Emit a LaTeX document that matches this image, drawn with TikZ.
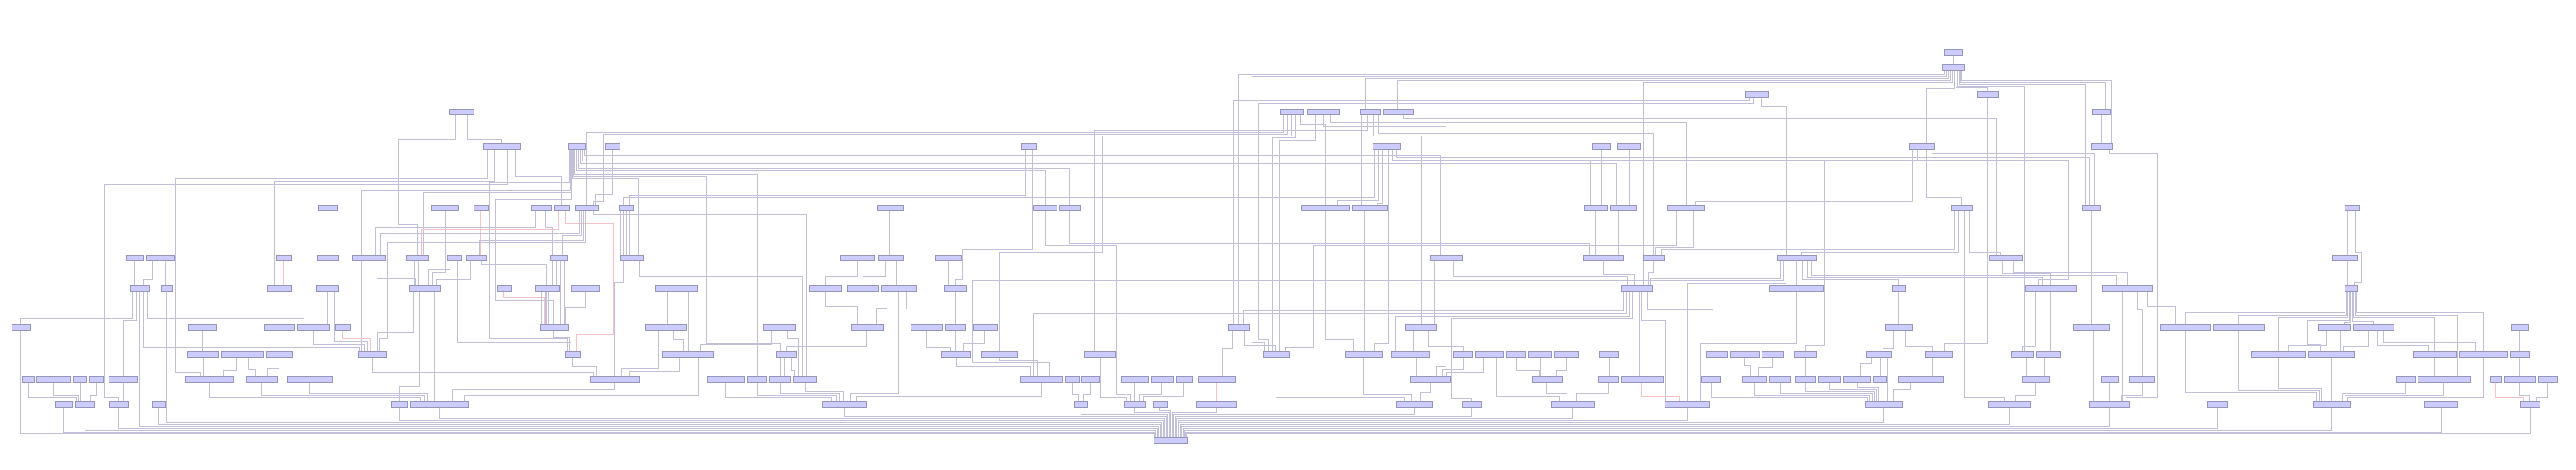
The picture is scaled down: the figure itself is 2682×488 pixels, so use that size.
\documentclass[tikz,border=0pt]{standalone}
\usetikzlibrary{backgrounds}
\definecolor{boxfill}{RGB}{204,204,255}
\definecolor{boxline}{RGB}{150,150,185}
\definecolor{edgec}{RGB}{194,192,216}
\definecolor{pinkc}{RGB}{242,196,200}
\tikzset{
  blk/.style={rectangle,draw=boxline,fill=boxfill,line width=0.8pt,minimum height=6pt,inner sep=0pt},
  ln/.style={draw=edgec,line width=0.8pt},
  pk/.style={draw=pinkc}
}
% box from x1 to x2 on row y
\newcommand{\nd}[4]{\node[blk,minimum width={#3pt-#2pt}] (#1) at ({(#2+#3)/2},#4) {};}
% down, across on row cy, down into target
\newcommand{\ed}[6][]{\draw[ln,#1] (0,#6) coordinate (q) ([xshift=#3pt]#2.south) coordinate (p) -- (p |- q) -| ([xshift=#5pt]#4.north);}
% down to cy1, across to xm, down to cy2, across, down
\newcommand{\edd}[8][]{\draw[ln,#1] (0,#6) coordinate (q) ([xshift=#3pt]#2.south) coordinate (p) -- (p |- q) -- (#7,#6) -- (#7,#8) -| ([xshift=#5pt]#4.north);}
% straight down
\newcommand{\vd}[4][]{\draw[ln,#1] ([xshift=#3pt]#2.south) coordinate (p) -- (p |- #4.north);}
\begin{document}
\begin{tikzpicture}[x=1pt,y=-1pt]
\useasboundingbox (0,0) rectangle (2682,488);
% row 0-3
\nd{a0}{2024}{2043}{54}
\nd{b0}{2022}{2045}{70}
\nd{c0}{1817}{1841}{98}
\nd{c1}{2058}{2080}{98}
\nd{d0}{467}{493}{116}
\nd{d1}{1333}{1357}{116}
\nd{d2}{1361}{1394}{116}
\nd{d3}{1416}{1437}{116}
\nd{d4}{1440}{1471}{116}
\nd{d5}{2178}{2197}{116}
% row 4
\nd{e0}{503}{541}{152}
\nd{e1}{591}{609}{152}
\nd{e2}{630}{645}{152}
\nd{e3}{1063}{1079}{152}
\nd{e4}{1429}{1458}{152}
\nd{e5}{1658}{1676}{152}
\nd{e6}{1684}{1708}{152}
\nd{e7}{1988}{2014}{152}
\nd{e8}{2177}{2199}{152}
% row 5
\nd{f0}{331}{351}{216}
\nd{f1}{449}{477}{216}
\nd{f2}{493}{508}{216}
\nd{f3}{553}{574}{216}
\nd{f4}{577}{592}{216}
\nd{f5}{599}{623}{216}
\nd{f6}{644}{659}{216}
\nd{f7}{913}{940}{216}
\nd{f8}{1076}{1100}{216}
\nd{f9}{1103}{1124}{216}
\nd{f10}{1355}{1405}{216}
\nd{f11}{1408}{1444}{216}
\nd{f12}{1649}{1673}{216}
\nd{f13}{1676}{1703}{216}
\nd{f14}{1736}{1774}{216}
\nd{f15}{2031}{2053}{216}
\nd{f16}{2168}{2186}{216}
\nd{f17}{2441}{2456}{216}
% row 6
\nd{g0}{131}{149}{268}
\nd{g1}{152}{181}{268}
\nd{g2}{287}{303}{268}
\nd{g3}{330}{352}{268}
\nd{g4}{367}{401}{268}
\nd{g5}{423}{446}{268}
\nd{g6}{465}{480}{268}
\nd{g7}{485}{506}{268}
\nd{g8}{573}{590}{268}
\nd{g9}{646}{669}{268}
\nd{g10}{875}{910}{268}
\nd{g11}{914}{940}{268}
\nd{g12}{973}{1001}{268}
\nd{g13}{1489}{1522}{268}
\nd{g14}{1648}{1690}{268}
\nd{g15}{1711}{1732}{268}
\nd{g16}{1850}{1891}{268}
\nd{g17}{2071}{2105}{268}
\nd{g18}{2428}{2454}{268}
% row 7
\nd{h0}{135}{155}{300}
\nd{h1}{168}{179}{300}
\nd{h2}{278}{303}{300}
\nd{h3}{329}{352}{300}
\nd{h4}{426}{458}{300}
\nd{h5}{517}{532}{300}
\nd{h6}{557}{582}{300}
\nd{h7}{595}{624}{300}
\nd{h8}{682}{726}{300}
\nd{h9}{842}{876}{300}
\nd{h10}{882}{914}{300}
\nd{h11}{917}{954}{300}
\nd{h12}{983}{1006}{300}
\nd{h13}{1688}{1720}{300}
\nd{h14}{1842}{1898}{300}
\nd{h15}{1970}{1983}{300}
\nd{h16}{2108}{2161}{300}
\nd{h17}{2189}{2241}{300}
\nd{h18}{2441}{2454}{300}
% row 8
\nd{i0}{12}{31}{340}
\nd{i1}{196}{225}{340}
\nd{i2}{275}{306}{340}
\nd{i3}{309}{343}{340}
\nd{i4}{349}{364}{340}
\nd{i5}{562}{591}{340}
\nd{i6}{672}{714}{340}
\nd{i7}{794}{828}{340}
\nd{i8}{886}{919}{340}
\nd{i9}{948}{981}{340}
\nd{i10}{984}{1005}{340}
\nd{i11}{1013}{1038}{340}
\nd{i12}{1279}{1300}{340}
\nd{i13}{1463}{1495}{340}
\nd{i14}{1963}{1991}{340}
\nd{i15}{2158}{2196}{340}
\nd{i16}{2249}{2301}{340}
\nd{i17}{2304}{2357}{340}
\nd{i18}{2413}{2447}{340}
\nd{i19}{2450}{2492}{340}
\nd{i20}{2614}{2632}{340}
% row 9
\nd{j0}{195}{227}{368}
\nd{j1}{230}{274}{368}
\nd{j2}{277}{304}{368}
\nd{j3}{373}{402}{368}
\nd{j4}{588}{604}{368}
\nd{j5}{689}{742}{368}
\nd{j6}{808}{829}{368}
\nd{j7}{980}{1010}{368}
\nd{j8}{1021}{1059}{368}
\nd{j9}{1129}{1161}{368}
\nd{j10}{1315}{1342}{368}
\nd{j11}{1400}{1439}{368}
\nd{j12}{1448}{1488}{368}
\nd{j13}{1513}{1533}{368}
\nd{j14}{1536}{1565}{368}
\nd{j15}{1568}{1588}{368}
\nd{j16}{1591}{1615}{368}
\nd{j17}{1618}{1643}{368}
\nd{j18}{1665}{1685}{368}
\nd{j19}{1776}{1798}{368}
\nd{j20}{1801}{1831}{368}
\nd{j21}{1834}{1856}{368}
\nd{j22}{1868}{1891}{368}
\nd{j23}{1943}{1969}{368}
\nd{j24}{2004}{2032}{368}
\nd{j25}{2094}{2117}{368}
\nd{j26}{2120}{2145}{368}
\nd{j27}{2344}{2400}{368}
\nd{j28}{2403}{2451}{368}
\nd{j29}{2512}{2557}{368}
\nd{j30}{2560}{2610}{368}
\nd{j31}{2613}{2633}{368}
% row 10
\nd{k0}{23}{35}{394}
\nd{k1}{38}{73}{394}
\nd{k2}{76}{90}{394}
\nd{k3}{93}{107}{394}
\nd{k4}{113}{143}{394}
\nd{k5}{193}{243}{394}
\nd{k6}{256}{288}{394}
\nd{k7}{299}{346}{394}
\nd{k8}{614}{665}{394}
\nd{k9}{736}{775}{394}
\nd{k10}{778}{798}{394}
\nd{k11}{801}{823}{394}
\nd{k12}{826}{850}{394}
\nd{k13}{1062}{1106}{394}
\nd{k14}{1109}{1123}{394}
\nd{k15}{1126}{1144}{394}
\nd{k16}{1167}{1195}{394}
\nd{k17}{1198}{1221}{394}
\nd{k18}{1224}{1241}{394}
\nd{k19}{1247}{1286}{394}
\nd{k20}{1468}{1510}{394}
\nd{k21}{1595}{1626}{394}
\nd{k22}{1664}{1685}{394}
\nd{k23}{1688}{1731}{394}
\nd{k24}{1771}{1791}{394}
\nd{k25}{1814}{1839}{394}
\nd{k26}{1842}{1864}{394}
\nd{k27}{1869}{1890}{394}
\nd{k28}{1893}{1916}{394}
\nd{k29}{1919}{1947}{394}
\nd{k30}{1950}{1964}{394}
\nd{k31}{1976}{2023}{394}
\nd{k32}{2105}{2133}{394}
\nd{k33}{2187}{2205}{394}
\nd{k34}{2217}{2243}{394}
\nd{k35}{2495}{2514}{394}
\nd{k36}{2517}{2572}{394}
\nd{k37}{2592}{2604}{394}
\nd{k38}{2607}{2639}{394}
\nd{k39}{2642}{2662}{394}
% row 11
\nd{l0}{57}{75}{420}
\nd{l1}{78}{98}{420}
\nd{l2}{114}{133}{420}
\nd{l3}{158}{172}{420}
\nd{l4}{407}{424}{420}
\nd{l5}{427}{487}{420}
\nd{l6}{856}{902}{420}
\nd{l7}{1118}{1132}{420}
\nd{l8}{1170}{1192}{420}
\nd{l9}{1200}{1215}{420}
\nd{l10}{1245}{1287}{420}
\nd{l11}{1453}{1491}{420}
\nd{l12}{1522}{1542}{420}
\nd{l13}{1615}{1660}{420}
\nd{l14}{1733}{1779}{420}
\nd{l15}{1942}{1980}{420}
\nd{l16}{2070}{2114}{420}
\nd{l17}{2175}{2217}{420}
\nd{l18}{2298}{2319}{420}
\nd{l19}{2408}{2447}{420}
\nd{l20}{2524}{2558}{420}
\nd{l21}{2624}{2644}{420}
% row 12
\nd{m0}{1201}{1236}{458}

\begin{scope}[on background layer]
\fill[white] (0,0) rectangle (2682,488);
% top right
\vd{a0}{0}{b0}
\ed{b0}{-9}{i12}{0}{77}
\edd{b0}{-7}{j10}{-12}{79}{1303}{356}
\ed{b0}{-5}{d3}{-5}{81}
\ed{b0}{-3}{d4}{0}{83}
\ed{b0}{-1}{h13}{7}{85}
\ed{b0}{1}{e7}{4}{92}
\ed{b0}{3}{c1}{0}{91}
\ed{b0}{5}{j25}{1.5}{89}
\ed{b0}{7}{f16}{-6}{87}
\ed{b0}{8}{d5}{4.5}{85}
\ed{b0}{9}{e8}{10}{83}
\ed{c0}{-8}{i12}{-5}{104}
\edd{c0}{-4}{j10}{-8}{107}{1310}{353}
\ed{c0}{4}{g16}{-10}{110}
\ed{c1}{0}{j24}{6}{357}
\vd{d5}{0}{e8}
\vd{e8}{0}{i15}
\edd{e8}{8}{l17}{17}{159}{2246}{413}
\vd{f16}{0}{i15}
\vd{i15}{2}{l17}
\vd{k33}{0}{l17}
\ed{k34}{0}{l17}{12}{411}
\vd{h17}{-6}{l17}
\ed{h17}{10}{k34}{0}{322}
\ed{h17}{20}{i16}{-10}{318}
\ed{e7}{-10}{f14}{10}{209}
\edd{e7}{-5}{j22}{0}{167}{1899}{359}
\ed{e7}{4}{f15}{0}{205}
\ed{e7}{10}{f16}{3}{159}
\ed{f15}{-8}{g15}{8}{259}
\ed{f15}{-3}{g16}{5}{262}
\ed{f15}{3}{l16}{-6}{413}
\ed{f15}{8}{g17}{-6}{262}
\ed{g16}{-17}{h13}{14}{289}
\edd{g16}{-14}{k13}{8}{291}{1012}{377}
\ed{g16}{-11}{l14}{0}{294}
\vd{g16}{0}{h14}
\ed{g16}{6}{h15}{0}{290}
\ed{g16}{11}{h16}{-8}{288}
\ed{g16}{16}{h17}{-12}{286}
\ed{g17}{-4}{h16}{0}{284}
\ed{g17}{8}{h17}{0}{283}
\ed{h14}{0}{l14}{14}{357}
\vd{h15}{0}{i14}
\ed{i14}{-6}{j23}{4}{362}
\ed{i14}{6}{j24}{-6}{360}
\vd{h16}{0}{j26}
\ed{h16}{-15}{j25}{0}{360}
\vd{j19}{-4}{k24}
\ed{j20}{0}{k25}{-4}{380}
\ed{j21}{0}{k25}{4}{382}
\vd{j22}{0}{k27}
\ed{j23}{-8}{k29}{4}{378}
\vd{j23}{1}{k30}
\vd{j23}{9}{l15}
\vd{j24}{-6}{k31}
\vd{j25}{4}{k32}
\vd{j26}{-4}{k32}
\ed{k24}{0}{l15}{-17}{413}
\ed{k25}{0}{l15}{-14.5}{411}
\ed{k26}{0}{l15}{-12}{409}
\ed{k27}{0}{l15}{-9.5}{407}
\ed{k28}{0}{l15}{-7.5}{405}
\ed{k29}{0}{l15}{-5.5}{403}
\vd{k30}{3}{l15}
\ed{k31}{-10}{l15}{10}{405}
\ed{k32}{0}{l16}{6}{411}
% far right
\vd{f17}{-4}{g18}
\edd{f17}{4}{h18}{4}{262}{2458}{293}
\vd{g18}{3}{h18}
\ed{h18}{-6}{i16}{0}{325}
\ed{h18}{-4.5}{i17}{0}{328}
\ed{h18}{-3}{j27}{0}{330}
\edd{h18}{-1.5}{j28}{-12}{333}{2402}{358}
\ed{h18}{0}{i18}{10}{335}
\ed{h18}{1.5}{i19}{0}{334}
\ed{h18}{3}{j29}{0}{330}
\ed{h18}{4.5}{k36}{13.5}{328}
\ed{h18}{6}{j30}{0}{325}
\ed{i16}{0}{l19}{-16}{408}
\ed{i17}{0}{l19}{-13}{406}
\ed{i18}{-8}{j27}{10}{359}
\vd{i18}{6}{j28}
\ed{i19}{-6}{j28}{12}{360}
\ed{i19}{4}{j29}{-6}{359}
\ed{i19}{10}{j30}{-8}{356}
\ed{j27}{0}{l19}{-10}{404}
\vd{j28}{0}{l19}
\vd{j29}{0}{k36}
\ed{j30}{0}{l19}{17}{413}
\vd{i20}{0}{j31}
\vd{j31}{0}{k38}
\ed{k35}{0}{l19}{11}{409}
\ed{k36}{0}{l19}{14}{411}
\ed[pk]{k37}{0}{l21}{-7}{413}
\ed{k38}{0}{l21}{-1}{411}
\ed{k39}{0}{l21}{6}{413}
% middle right
\ed{d1}{-9}{f5}{-1}{137}
\edd{d1}{-5}{f5}{6}{139}{628}{209}
\edd{d1}{-1}{j8}{0}{141}{1147}{262}
\ed{d1}{3}{j10}{-4}{143}
\ed{d1}{9}{f10}{0}{129}
\ed{d2}{-8}{j10}{4}{146}
\ed{d2}{0}{g13}{0}{131}
\ed{d2}{8}{f14}{0}{127}
\vd{d3}{-9}{f11}
\ed{d3}{-3}{j9}{-6}{135}
\ed{d3}{4}{i13}{0}{141}
\ed{d3}{9}{g15}{0}{138}
\ed{d4}{6}{g17}{-10}{123}
\ed{e4}{-12}{f6}{-2}{205}
\ed{e4}{-8}{f10}{12}{208}
\ed{e4}{-4}{f11}{8}{211}
\ed{e4}{2}{j11}{12}{357}
\edd{e4}{6}{h16}{-12}{166}{2153}{290}
\ed{e4}{10}{f16}{-2}{163}
\vd{e5}{0}{f12}
\vd{e6}{0}{f13}
\vd{f12}{0}{g14}
\vd{f13}{-4}{g14}
\ed{f10}{0}{j11}{-10}{353}
\vd{f11}{-6}{j11}
\edd{f14}{-10}{j10}{10}{255}{1367}{361}
\ed{f14}{8}{g15}{2}{257}
\ed{g13}{8}{h13}{-10}{287}
\vd{g13}{-12}{i13}
\ed{g13}{0}{k20}{6}{381}
\ed{g14}{0}{h13}{-3}{285}
\ed{g15}{0}{h13}{12}{283}
\ed{h13}{-14}{i12}{5}{323}
\ed{h13}{-11}{k13}{-8}{326}
\ed{h13}{-8}{j12}{-16}{329}
\edd{h13}{-5}{l12}{0}{331}{1511}{414}
\vd{h13}{2}{k23}
\ed{h13}{5}{l14}{-22}{333}
\ed{h13}{11}{j19}{-4}{322}
\ed{i12}{6}{j10}{-1}{359}
\ed{i12}{-6}{k19}{6}{362}
\ed{j10}{0}{l11}{-10}{413}
\ed{j11}{0}{l11}{-3}{410}
\ed{k20}{0}{l11}{6}{408}
\vd{i13}{-8}{j12}
\ed{i13}{8}{j13}{0}{360}
\vd{j12}{6}{k20}
\ed{j13}{0}{k20}{12}{384}
\ed{j14}{-6}{k20}{17}{387}
\ed{j15}{0}{k21}{-8}{385}
\vd{j16}{0}{k21}
\ed{j17}{0}{k21}{10}{385}
\vd{j18}{0}{k22}
\ed{j14}{8}{l13}{-14}{412}
\ed{k21}{0}{l13}{-6}{409}
\ed{k22}{0}{l13}{4}{409}
\ed[pk]{k23}{0}{l14}{-8}{412}
% middle
\ed{e3}{-4}{f6}{4}{203}
\edd{e3}{3}{h12}{0}{259}{1002}{290}
\edd{f8}{0}{l8}{-4}{255}{1162}{410}
\ed{f9}{0}{g14}{-15}{253}
\vd{f7}{0}{g11}
\ed{g10}{0}{h9}{0}{287}
\ed{g11}{-6}{h10}{0}{287}
\vd{g11}{6}{h11}
\vd{g12}{0}{h12}
\vd{h10}{0}{i8}
\ed{h9}{0}{i8}{-10}{318}
\ed{h11}{-12}{i8}{10}{320}
\ed{h11}{0}{l6}{6}{409}
\ed{h11}{8}{j9}{6}{321}
\vd{h12}{0}{i10}
\ed{i8}{0}{j6}{0}{360}
\ed{i9}{0}{j7}{-6}{361}
\vd{i10}{0}{j7}
\ed{i11}{0}{j7}{8}{357}
\ed{j7}{0}{k13}{-12}{381}
\ed{j8}{0}{k13}{-4}{375}
\ed{j9}{0}{l8}{-9}{413}
\ed{k14}{0}{l7}{-3}{410}
\ed{k15}{0}{l7}{3}{410}
\vd{k16}{0}{l8}
\ed{k17}{0}{l8}{5}{410}
\ed{k18}{0}{l8}{9}{412}
\vd[pk]{k19}{0}{l10}
\ed{k13}{0}{l6}{12}{412}
\ed{k9}{0}{l6}{-14}{413}
\ed{k10}{0}{l6}{-9}{411}
\ed{k11}{0}{l6}{-5}{409}
\ed{k12}{0}{l6}{-1}{407}
% left middle
\ed{d0}{6}{e0}{0}{145}
\edd{d0}{-6}{g5}{0}{145}{414}{233}
\edd{e0}{-15}{k5}{-10}{185}{182}{387}
\ed{e0}{-8}{h2}{-5}{188}
\edd{e0}{6}{l2}{0}{191}{108}{413}
\ed{e0}{14}{f4}{0}{183}
\edd{e1}{-8}{j4}{-6}{189}{509}{352}
\ed{e1}{-7}{g4}{-8}{198}
\ed{e1}{-6}{g5}{6}{200}
\edd{e1}{-5}{i5}{0}{207}{515}{312}
\ed{e1}{8}{g13}{-6}{161}
\ed{e1}{6}{f12}{-6}{167}
\ed{e1}{4}{f13}{-6}{170}
\ed{e1}{2}{f9}{0}{175}
\ed{e1}{0}{f8}{0}{177}
\ed{e1}{-2}{k10}{0}{181}
\edd{e1}{-3}{j6}{-6}{183}{735}{357}
\ed{e1}{-4}{g9}{6.5}{185}
\ed{e2}{0}{f5}{9}{202}
\ed{f1}{0}{h4}{8}{283}
\vd[pk]{f2}{0}{g7}
\ed{f3}{-6}{g4}{6}{236}
\ed{f3}{4}{g8}{-6}{236}
\ed[pk]{f4}{-3}{g5}{3.5}{238}
\edd[pk]{f4}{4}{j4}{4}{232}{638}{348}
\ed{f5}{-8}{g4}{12}{242}
\ed{f5}{-6}{g8}{4}{245}
\ed{f5}{-4}{g7}{4}{250}
\edd{f5}{-2}{j3}{8}{252}{403}{352}
\ed{f5}{6}{k12}{1}{223}
\vd{f6}{-5}{g9}
\vd{f6}{-2}{g9}
\vd{f6}{1}{g9}
\vd{f6}{4}{g9}
\vd{f0}{0}{g3}
\vd{g3}{0}{h3}
\ed{g4}{8}{h4}{-10}{289}
\vd{g4}{-8}{j3}
\vd{g5}{-3}{h4}
\vd{g5}{1}{h4}
\ed{g6}{-4}{h4}{4}{280}
\ed{g6}{4}{j4}{-2}{356}
\ed{g7}{-6}{h4}{12}{290}
\ed{g7}{6}{i5}{-8}{275}
\vd{g8}{-6}{h6}
\vd{g8}{-2}{h6}
\vd{g8}{2}{i5}
\vd{g8}{6}{i5}
\ed{g9}{-8}{k8}{0}{293}
\ed{g9}{8}{k12}{-3}{287}
\ed[pk]{h5}{0}{i5}{-10}{309}
\vd{h6}{-6}{i5}
\vd{h6}{-2}{i5}
\vd{h6}{2}{i5}
\ed{h7}{0}{i5}{12}{319}
\ed{i5}{0}{j4}{-4}{351}
\ed{j4}{0}{k8}{-18}{381}
\vd{h8}{-10}{i6}
\vd{h8}{12}{j5}
\ed{i6}{-8}{k8}{8}{383}
\ed{i6}{8}{j5}{-4}{353}
\ed{j5}{-8}{k8}{16}{386}
\ed{j5}{12}{l5}{26}{411}
\ed{i7}{-8}{j5}{14}{358}
\ed{i7}{8}{k12}{-7}{352}
\vd{j6}{-6}{k11}
\vd{j6}{-2}{k11}
\ed{j6}{6}{k12}{-11}{385}
\vd{j0}{0}{k5}
\ed{j1}{-6}{k5}{14}{385}
\ed{j1}{6}{k6}{-6}{384}
\ed{j2}{0}{k6}{6}{383}
\vd{i1}{0}{j0}
\vd{i2}{0}{j2}
\vd{h2}{0}{i2}
\vd[pk]{g2}{0}{h2}
\ed{k5}{0}{l5}{-20}{413}
\ed{k6}{0}{l5}{-16}{411}
\ed{k7}{0}{l5}{-12}{409}
\ed{k8}{0}{l5}{14}{405}
\ed{j3}{0}{k8}{-22}{387}
% far left
\vd{g0}{0}{h0}
\ed{g1}{-8}{h0}{4}{290}
\vd{g1}{6}{h1}
\ed{h0}{-8}{i0}{0}{331}
\ed{h0}{-3}{k4}{0}{333}
\ed{h0}{4}{j3}{-13}{361}
\ed{h0}{8}{i3}{-10}{331}
\vd{h3}{0}{i3}
\ed{h3}{8}{j3}{-5}{355}
\ed{i3}{0}{j3}{-8}{358}
\ed[pk]{i4}{0}{j3}{-2}{352}
\ed{h4}{-12}{j3}{6}{345}
\ed{h4}{-6}{l4}{0}{402}
\vd{h4}{10}{l5}
\ed{k0}{0}{l1}{-9}{413}
\ed{k1}{0}{l1}{-7}{411}
\vd{k2}{0}{l1}
\ed{k3}{0}{l1}{6}{411}
\vd{k4}{0}{l2}
% into the bottom box
\ed{i0}{0}{m0}{-17}{451}
\ed{l0}{0}{m0}{-16}{449}
\ed{l1}{0}{m0}{-15}{447}
\ed{l2}{0}{m0}{-13.5}{445}
\ed{h0}{0}{m0}{-12}{443}
\ed{l3}{0}{m0}{-10.5}{441}
\ed{h1}{0}{m0}{-9}{439}
\ed{l4}{0}{m0}{-7.5}{437}
\ed{l5}{0}{m0}{-6}{435}
\ed{l6}{0}{m0}{-4.5}{433}
\ed{l7}{0}{m0}{-3}{431}
\ed{l8}{0}{m0}{-1.5}{429}
\ed{l9}{0}{m0}{0}{427}
\ed{l10}{0}{m0}{1.5}{429}
\ed{l11}{0}{m0}{3}{431}
\ed{l12}{0}{m0}{4.5}{433}
\ed{l13}{0}{m0}{6}{435}
\ed{l14}{0}{m0}{7.5}{437}
\ed{l15}{0}{m0}{9}{439}
\ed{l16}{0}{m0}{10.5}{441}
\ed{l17}{0}{m0}{12}{443}
\ed{l18}{0}{m0}{13.5}{445}
\ed{l19}{0}{m0}{15}{447}
\ed{l20}{0}{m0}{16}{449}
\ed{l21}{0}{m0}{17}{451}
\end{scope}
\end{tikzpicture}
\end{document}
